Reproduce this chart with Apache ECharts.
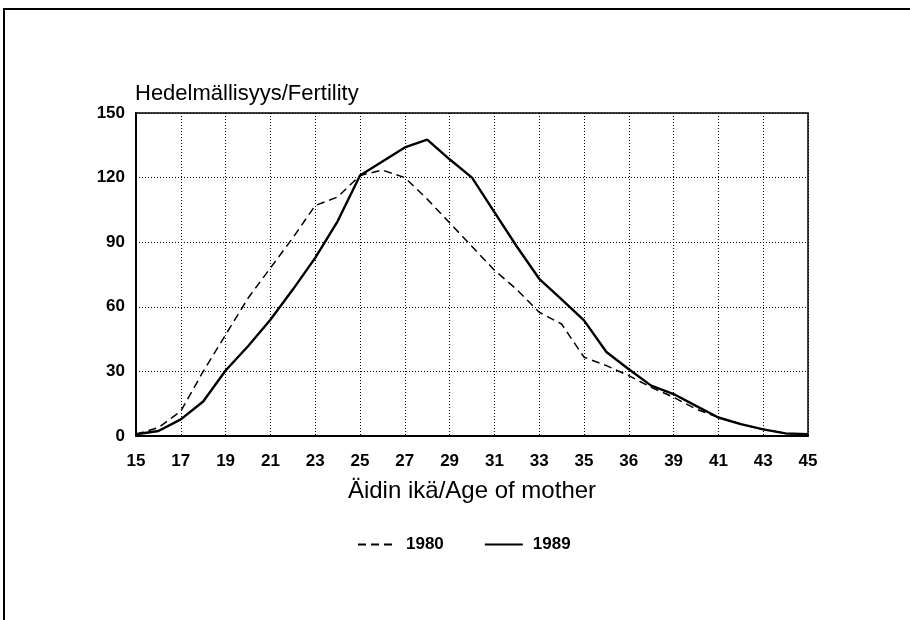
<!DOCTYPE html>
<html>
<head>
<meta charset="utf-8">
<script src="https://cdn.jsdelivr.net/npm/echarts@6/dist/echarts.min.js"></script>
<style>
  html, body { margin: 0; padding: 0; background: #fff; }
  #main { width: 910px; height: 620px; }
</style>
</head>
<body>
<div id="main"></div>
<script>
/* Hedelmällisyys iän mukaan 1980 ja 1989 */
var ages = [];
for (var a = 15; a <= 45; a++) ages.push(String(a));

// tick labels as printed (the original prints 36 where 37 would be)
var tickLabels = {
    '15': '15', '17': '17', '19': '19', '21': '21', '23': '23', '25': '25',
    '27': '27', '29': '29', '31': '31', '33': '33', '35': '35', '37': '36',
    '39': '39', '41': '41', '43': '43', '45': '45'
};

var fert1980 = [0.8, 3.9, 11.5, 30, 47, 64, 78, 92, 107, 111, 121, 123.5, 120,
    110, 99, 88, 77, 68, 57.5, 52, 36.6, 32.7, 28, 22.6, 18, 12.5, 8.6, 5.5, 3.1, 1.2, 0.8];
var fert1989 = [0.8, 2.3, 7.7, 16, 30.4, 41.7, 54, 68, 82.7, 99.7, 121, 127.5, 134,
    137.6, 128.5, 120, 104, 88, 73, 63.5, 53.7, 39, 31, 23.4, 19.5, 14, 8.6, 5.5, 3.1, 1.2, 0.8];

var FONT = 'Liberation Sans';

var chart = echarts.init(document.getElementById('main'));

var option = {
    animation: false,
    backgroundColor: '#fff',
    textStyle: { fontFamily: FONT, color: '#000' },
    title: {
        text: 'Hedelmällisyys/Fertility',
        left: 135,
        top: 83,
        padding: 0,
        textStyle: { fontFamily: FONT, fontSize: 22, fontWeight: 'normal', color: '#000' }
    },
    legend: {
        left: 352,
        top: 531,
        itemWidth: 38,
        itemHeight: 14,
        itemGap: 40,
        itemStyle: { opacity: 0 },
        textStyle: { fontFamily: FONT, fontSize: 17, fontWeight: 'bold', color: '#000', padding: [0, 0, 0, 5] },
        data: ['1980', '1989']
    },
    grid: {
        left: 136,
        right: 102,
        top: 113,
        bottom: 184,
        show: true,
        borderColor: '#000',
        borderWidth: 1.5,
        backgroundColor: 'transparent'
    },
    xAxis: {
        type: 'category',
        data: ages,
        boundaryGap: false,
        name: 'Äidin ikä/Age of mother',
        nameLocation: 'middle',
        nameGap: 43,
        nameTextStyle: { fontFamily: FONT, fontSize: 24, color: '#000' },
        axisLine: { lineStyle: { color: '#000', width: 2 } },
        axisTick: { show: false },
        axisLabel: {
            interval: 1,
            margin: 17,
            fontSize: 17,
            fontWeight: 'bold',
            color: '#000',
            formatter: function (v) { return tickLabels[v] || ''; }
        },
        splitLine: {
            show: true,
            interval: 1,
            lineStyle: { color: '#000', width: 1, type: [1, 2] }
        }
    },
    yAxis: {
        type: 'value',
        min: 0,
        max: 150,
        interval: 30,
        axisLine: { show: true, lineStyle: { color: '#000', width: 2 } },
        axisTick: { show: false },
        axisLabel: { margin: 11, fontSize: 17, fontWeight: 'bold', color: '#000' },
        splitLine: {
            show: true,
            lineStyle: { color: '#000', width: 1, type: [1, 2] }
        }
    },
    graphic: [
        {
            type: 'polyline',
            shape: { points: [[4, 620], [4, 9], [910, 9]] },
            style: { stroke: '#000', lineWidth: 2, fill: null },
            silent: true
        }
    ],
    series: [
        {
            name: '1980',
            type: 'line',
            data: fert1980,
            symbol: 'none',
            lineStyle: { color: '#000', width: 1.5, type: [8, 5] },
            itemStyle: { color: '#000' }
        },
        {
            name: '1989',
            type: 'line',
            data: fert1989,
            symbol: 'none',
            lineStyle: { color: '#000', width: 2.4, type: 'solid' },
            itemStyle: { color: '#000' }
        }
    ]
};

chart.setOption(option);
</script>
</body>
</html>
